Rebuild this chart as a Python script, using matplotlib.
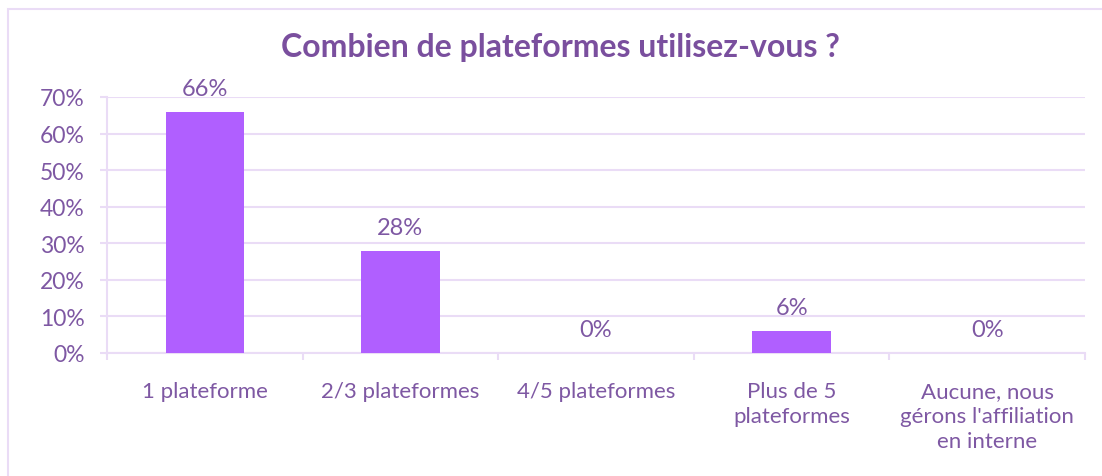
import matplotlib
matplotlib.use("Agg")
import matplotlib.pyplot as plt
from matplotlib.patches import Rectangle

categories = ["1 plateforme", "2/3 plateformes", "4/5 plateformes",
              "Plus de 5\nplateformes", "Aucune, nous\ngérons l'affiliation\nen interne"]
shares = [0.66, 0.28, 0.0, 0.06, 0.0]
y_ticks = [0.0, 0.1, 0.2, 0.3, 0.4, 0.5, 0.6, 0.7]

bar_color = "#b05fff"
text_color = "#7e58a3"
title_color = "#7a4f9e"
line_color = "#eadcf6"

plt.rcParams["font.family"] = ["Lato", "DejaVu Sans"]

fig = plt.figure(figsize=(11.02, 4.77), dpi=100)
W, H = 1102, 477

# light frame around the chart area
fig.patches.append(Rectangle((8 / W, -0.01), 1.1, 1 - 10 / H + 0.01,
                             transform=fig.transFigure, fill=False,
                             edgecolor=line_color, linewidth=1.5))

ax = fig.add_axes([107 / W, 123 / H, 978 / W, 256 / H])
x = range(len(categories))
ax.bar(x, shares, width=0.4, color=bar_color, zorder=3)

for xi, v in zip(x, shares):
    ax.annotate(f"{v:.0%}", (xi, v), xytext=(0, 12), textcoords="offset points",
                ha="center", va="baseline", fontsize=17, color=text_color)

ax.set_xlim(-0.5, len(categories) - 0.5)
ax.set_ylim(0, 0.7)
ax.set_yticks(y_ticks)
ax.set_yticklabels([f"{t:.0%}" for t in y_ticks])
ax.set_xticks(list(x))
ax.set_xticklabels(categories, linespacing=1.33)
ax.set_xticks([i - 0.5 for i in range(len(categories) + 1)], minor=True)

ax.tick_params(axis="x", which="major", length=0, pad=20, labelsize=16,
               labelcolor=text_color)
ax.tick_params(axis="x", which="minor", length=5, width=1.5, color=line_color)
ax.tick_params(axis="y", length=5, width=1.5, color=line_color, pad=11,
               labelsize=16.5, labelcolor=text_color)

ax.grid(axis="y", color=line_color, linewidth=1.5, zorder=0)
for side in ["top", "right"]:
    ax.spines[side].set_visible(False)
for side in ["left", "bottom"]:
    ax.spines[side].set_color(line_color)
    ax.spines[side].set_linewidth(1.5)

fig.text(560 / W, 1 - 48 / H, "Combien de plateformes utilisez-vous ?",
         ha="center", va="center", fontsize=23, fontweight="bold",
         color=title_color)

fig.savefig("out.png", dpi=100)
